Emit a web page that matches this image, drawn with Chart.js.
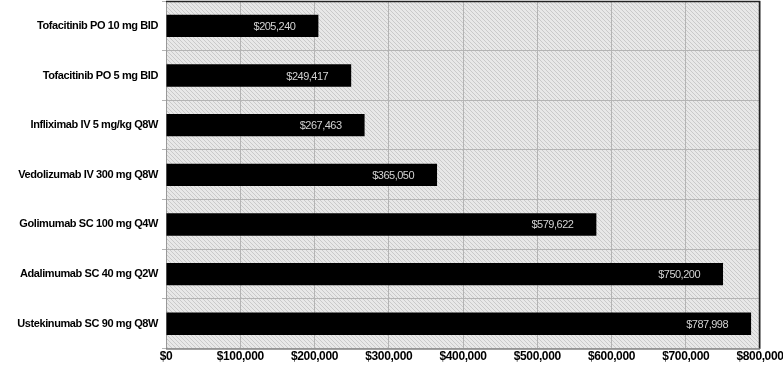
<!DOCTYPE html>
<html>
<head>
<meta charset="utf-8">
<script src="https://cdn.jsdelivr.net/npm/chart.js@4/dist/chart.umd.min.js"></script>
<style>
html,body{margin:0;padding:0;background:#fff;}
#wrap{width:783px;height:365px;}
</style>
</head>
<body>
<div id="wrap"><canvas id="c" width="783" height="365"></canvas></div>
<script>
const categories = [
  "Tofacitinib PO 10 mg BID",
  "Tofacitinib PO 5 mg BID",
  "Infliximab IV 5 mg/kg Q8W",
  "Vedolizumab IV 300 mg Q8W",
  "Golimumab SC 100 mg Q4W",
  "Adalimumab SC 40 mg Q2W",
  "Ustekinumab SC 90 mg Q8W"
];
const costs = [205240, 249417, 267463, 365050, 579622, 750200, 787998];
const xTickMax = 800000;
const xTickStep = 100000;

function fmt(v){ return "$" + v.toLocaleString("en-US"); }

function makePattern(ctx){
  const p = document.createElement("canvas");
  p.width = 4; p.height = 4;
  const g = p.getContext("2d");
  g.fillStyle = "#e8e8e8";
  g.fillRect(0,0,4,4);
  g.strokeStyle = "#cacaca";
  g.lineWidth = 1;
  g.beginPath();
  g.moveTo(0,0); g.lineTo(4,4);
  g.moveTo(-2,2); g.lineTo(2,6);
  g.moveTo(2,-2); g.lineTo(6,2);
  g.stroke();
  return ctx.createPattern(p, "repeat");
}

const spacingPlugin = {
  id: "spacing",
  beforeLayout(chart){ chart.ctx.letterSpacing = "-0.4px"; },
  beforeDraw(chart){ chart.ctx.letterSpacing = "-0.4px"; }
};

const bgPlugin = {
  id: "bg",
  beforeDraw(chart){
    const {ctx, chartArea:a} = chart;
    ctx.save();
    ctx.fillStyle = makePattern(ctx);
    ctx.fillRect(a.left, a.top, a.right - a.left, a.bottom - a.top);
    ctx.restore();
  },
  afterDatasetsDraw(chart){
    const {ctx, chartArea:a} = chart;
    ctx.save();
    ctx.strokeStyle = "#222";
    ctx.lineWidth = 1.5;
    ctx.beginPath();
    ctx.moveTo(a.left, a.top + 0.5);
    ctx.lineTo(a.right - 0.5, a.top + 0.5);
    ctx.lineTo(a.right - 0.5, a.bottom);
    ctx.stroke();
    ctx.strokeStyle = "#666";
    ctx.lineWidth = 1;
    ctx.beginPath();
    ctx.moveTo(a.left, a.bottom + 0.5);
    ctx.lineTo(a.right, a.bottom + 0.5);
    ctx.stroke();
    // value labels
    const meta = chart.getDatasetMeta(0);
    const xs = chart.scales.x;
    ctx.letterSpacing = "-0.5px";
    ctx.font = "11px 'Liberation Sans Narrow', 'Liberation Sans', Arial";
    ctx.fillStyle = "#d2d2d2";
    ctx.textAlign = "right";
    ctx.textBaseline = "middle";
    meta.data.forEach((bar, i) => {
      const xEnd = xs.getPixelForValue(costs[i]);
      ctx.fillText(fmt(costs[i]), xEnd - 23, bar.y + 1);
    });
    ctx.restore();
  }
};

new Chart(document.getElementById("c"), {
  type: "bar",
  data: {
    labels: categories,
    datasets: [{
      data: costs,
      backgroundColor: "#000000",
      borderWidth: 0,
      barPercentage: 0.9,
      categoryPercentage: 0.5
    }]
  },
  options: {
    indexAxis: "y",
    responsive: false,
    animation: false,
    devicePixelRatio: 1,
    layout: { padding: { top: 1, right: 23, bottom: 0, left: 0 } },
    plugins: { legend: { display: false }, tooltip: { enabled: false } },
    scales: {
      x: {
        min: 0,
        max: xTickMax,
        afterFit(scale){ scale.paddingRight = 0; scale.paddingLeft = 0; },
        ticks: {
          stepSize: xTickStep,
          callback: v => fmt(v),
          color: "#000",
          font: { family: "'Liberation Sans', Arial", weight: "bold", size: 12 },
          padding: 1,
          maxRotation: 0
        },
        grid: { color: "#b4b4b4", lineWidth: 1, drawTicks: false },
        border: { display: false }
      },
      y: {
        offset: true,
        afterFit(scale){ scale.width = 166; scale.paddingTop = 0; scale.paddingBottom = 0; },
        ticks: {
          color: "#000",
          font: { family: "'Liberation Sans', Arial", weight: "bold", size: 11 },
          padding: 4
        },
        grid: { color: "#b4b4b4", lineWidth: 1, offset: true, tickLength: 4 },
        border: { display: true, color: "#999" }
      }
    }
  },
  plugins: [spacingPlugin, bgPlugin]
});
</script>
</body>
</html>
